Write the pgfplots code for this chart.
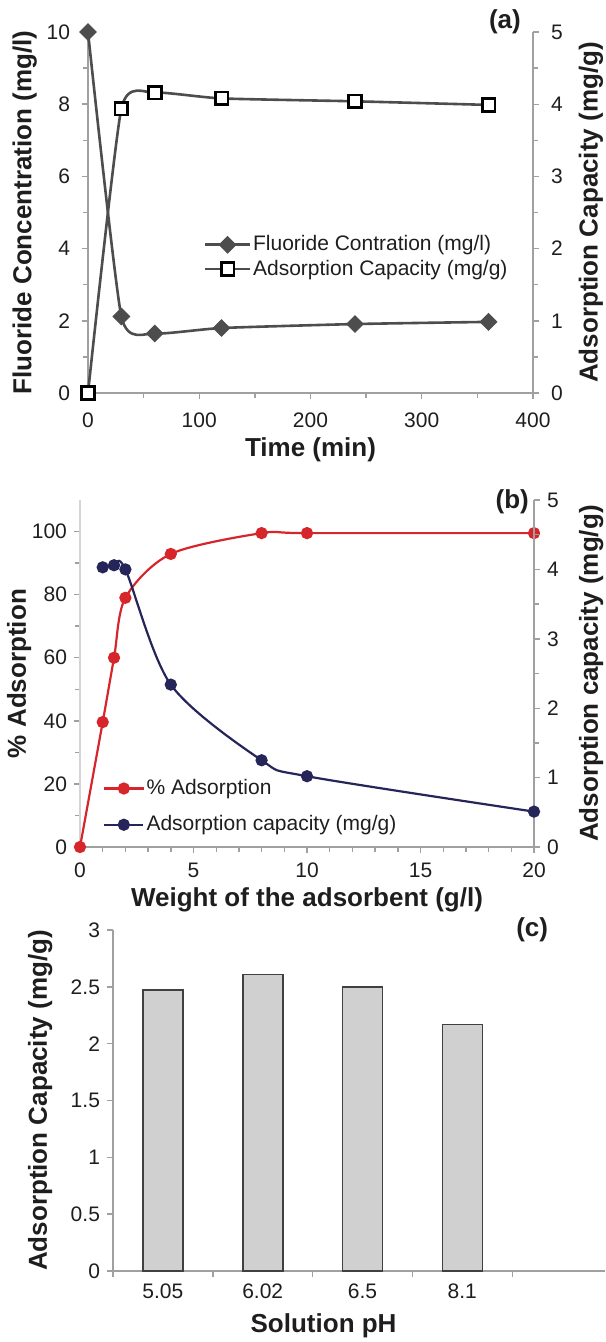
\documentclass[border=0pt]{standalone}
\usepackage{pgfplots}
\pgfplotsset{compat=1.18}
\usepackage{fontspec}
\setmainfont{Liberation Sans}

\definecolor{linegray}{HTML}{4D4D4D}
\definecolor{axisgray}{HTML}{A0A0A0}
\definecolor{redline}{HTML}{D7262B}
\definecolor{navyline}{HTML}{25255A}
\definecolor{barfill}{HTML}{D0D0D0}
\definecolor{txt}{HTML}{1E1E1E}

\pgfplotsset{
  base/.style={
    scale only axis,
    anchor=south west,
    axis line style={-, axisgray, line width=0.7pt},
    tick style={axisgray, line width=0.7pt},
    tick align=outside,
    major tick length=3pt,
    minor tick length=2.5pt,
    /pgf/number format/assume math mode=true,
    tick label style={font=\fontsize{10.5}{12}\selectfont, text=txt},
    label style={font=\bfseries\fontsize{13}{15}\selectfont, text=txt},
    clip=false,
  },
  twinleft/.style={base, axis x line*=bottom, axis y line*=left},
  twinright/.style={base, axis x line=none, axis y line*=right},
  longlegend/.style={legend image code/.code={
    \draw[mark repeat=2, mark phase=2, ##1] plot coordinates {(0cm,0cm) (#1/2,0cm) (#1,0cm)};}},
}

\begin{document}
\begin{tikzpicture}
\useasboundingbox (0,0) rectangle (302.5pt,-671pt);

% (a) contact time
\begin{axis}[twinleft, at={(44pt,-196.5pt)}, width=222.5pt, height=180.5pt,
  xmin=0, xmax=400, ymin=0, ymax=10,
  xtick={0,100,...,400}, minor xtick={50,150,250,350},
  ytick={0,2,...,10}, minor ytick={1,3,5,7,9},
  xticklabel style={yshift=-3.5pt}, yticklabel style={xshift=-2.5pt},
  xlabel={Time (min)}, ylabel={Fluoride Concentration (mg/l)},
  xlabel style={at={(axis description cs:0.5,-0.158)}, anchor=center},
  ylabel style={at={(axis description cs:-0.142,0.5)}, anchor=center},
  longlegend=0.78cm,
  legend style={draw=none, fill=none, at={(axis cs:104,3.77)}, anchor=west,
    font=\fontsize{10.5}{12}\selectfont, inner sep=0pt, row sep=1pt,
    nodes={inner sep=1pt, text=txt}},
  legend cell align=left]
\addplot[linegray, line width=1.3pt, smooth, tension=0.33, mark=square*, mark size=2.9pt,
  mark options={rotate=45, fill=linegray, draw=linegray, line width=0.5pt}]
  coordinates {(0,10) (30,2.12) (60,1.65) (120,1.80) (240,1.91) (360,1.97)};
\addlegendentry{Fluoride Contration (mg/l)}
\addlegendimage{linegray, line width=1.3pt, mark=square*, mark size=3.2pt,
  mark options={fill=white, draw=black, line width=1.4pt}}
\addlegendentry{Adsorption Capacity (mg/g)}
\node[font=\bfseries\fontsize{13}{15}\selectfont, text=txt] at (axis description cs:0.937,1.028) {(a)};
\end{axis}
\begin{axis}[twinright, at={(44pt,-196.5pt)}, width=222.5pt, height=180.5pt,
  xmin=0, xmax=400, ymin=0, ymax=5,
  ytick={0,1,...,5}, minor ytick={0.5,1.5,...,4.5},
  yticklabel style={xshift=2.5pt},
  ylabel={Adsorption Capacity (mg/g)},
  ylabel style={at={(axis description cs:1.13,0.5)}, anchor=center}]
\addplot[linegray, line width=1.3pt, smooth, tension=0.33, mark=square*, mark size=3.2pt,
  mark options={fill=white, draw=black, line width=1.4pt}]
  coordinates {(0,0) (30,3.94) (60,4.16) (120,4.08) (240,4.04) (360,3.99)};
\end{axis}

% (b) adsorbent dose
\begin{axis}[twinleft, at={(40pt,-423.5pt)}, width=227pt, height=173.5pt,
  xmin=0, xmax=20, ymin=0, ymax=110,
  xtick={0,5,...,20}, minor xtick={1,2,...,19},
  ytick={0,20,...,100}, minor ytick={10,30,...,90},
  xticklabel style={yshift=-1.5pt},
  y axis line style={axisgray!45},
  xlabel={Weight of the adsorbent (g/l)}, ylabel={\% Adsorption},
  xlabel style={at={(axis description cs:0.5,-0.153)}, anchor=center},
  ylabel style={at={(axis description cs:-0.134,0.5)}, anchor=center},
  longlegend=0.69cm,
  legend style={draw=none, fill=none, at={(axis cs:1.0,12.8)}, anchor=west,
    font=\fontsize{10.5}{12}\selectfont, inner sep=0pt, row sep=7pt,
    nodes={inner sep=1pt, text=txt}},
  legend cell align=left]
\addplot[redline, line width=1.1pt, smooth, mark=*, mark size=2.5pt]
  coordinates {(0,0) (1,39.6) (1.5,60.0) (2,79.0) (4,92.9) (8,99.5) (10,99.5) (20,99.5)};
\addlegendentry{\% Adsorption}
\addlegendimage{navyline, line width=1.1pt, mark=*, mark size=2.5pt}
\addlegendentry{Adsorption capacity (mg/g)}
\node[font=\bfseries\fontsize{13}{15}\selectfont, text=txt] at (axis description cs:0.952,0.994) {(b)};
\end{axis}
\begin{axis}[twinright, at={(40pt,-423.5pt)}, width=227pt, height=173.5pt,
  xmin=0, xmax=20, ymin=0, ymax=5,
  ytick={0,1,...,5}, minor ytick={0.5,1.5,...,4.5},
  ylabel={Adsorption capacity (mg/g)},
  ylabel style={at={(axis description cs:1.126,0.5)}, anchor=center}]
\addplot[navyline, line width=1.1pt, smooth, mark=*, mark size=2.5pt]
  coordinates {(1,4.03) (1.5,4.06) (2,4.0) (4,2.34) (8,1.25) (10,1.02) (20,0.51)};
\end{axis}

% (c) solution pH
\begin{axis}[base, axis x line*=bottom, axis y line*=left,
  at={(56.5pt,-635.5pt)}, width=246pt, height=170.5pt,
  xmin=-0.5, xmax=4.43, ymin=0, ymax=3,
  ytick={0,0.5,...,3},
  xtick={-0.5,0.5,...,3.5}, xticklabels={},
  extra x ticks={0,1,2,3}, extra x tick labels={5.05,6.02,6.5,8.1},
  extra x tick style={tick style={draw=none}},
  xlabel={Solution pH}, ylabel={Adsorption Capacity (mg/g)},
  xlabel style={at={(axis description cs:0.428,-0.16)}, anchor=center},
  ylabel style={at={(axis description cs:-0.148,0.5)}, anchor=center}]
\addplot[ybar, bar width=20pt, fill=barfill, draw=black!75, line width=0.8pt]
  coordinates {(0,2.47) (1,2.61) (2,2.50) (3,2.17)};
\node[font=\bfseries\fontsize{13}{15}\selectfont, text=txt] at (axis description cs:0.852,1.0) {(c)};
\end{axis}
\end{tikzpicture}
\end{document}
